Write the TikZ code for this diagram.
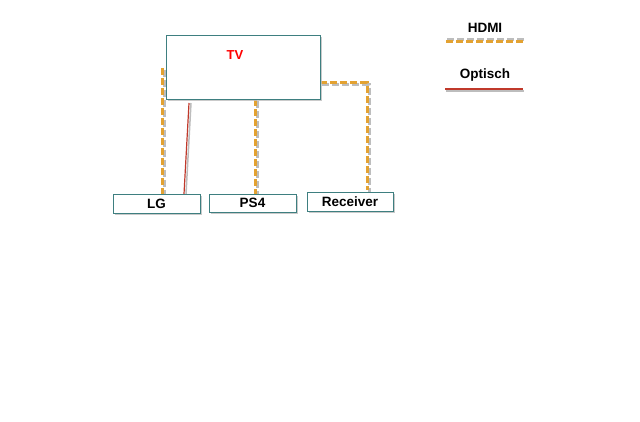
\documentclass[tikz,border=0pt]{standalone}
\usepackage{fontspec}
\setmainfont{Liberation Sans}
\usetikzlibrary{shadows}
\definecolor{hdmi}{HTML}{E3A232}
\definecolor{opt}{HTML}{C0392B}
\definecolor{boxedge}{HTML}{3E7F80}
\definecolor{shade}{HTML}{BDBDBD}
\begin{document}
\begin{tikzpicture}[x=1pt,y=-1pt,
  dev/.style={draw=boxedge,line width=0.8pt,fill=white,rectangle,inner sep=0pt,
    font=\bfseries\fontsize{13.5}{15}\selectfont,
    drop shadow={shadow xshift=2pt,shadow yshift=-2pt,fill=shade,opacity=0.8}},
  hdmiline/.style={draw=hdmi,line width=3pt,dash pattern=on 7pt off 3pt},
  hdmishadow/.style={draw=shade,line width=3pt,dash pattern=on 7pt off 3pt},
  optline/.style={draw=opt,line width=1.2pt},
  optshadow/.style={draw=shade,line width=1.5pt},
  lbl/.style={font=\bfseries\fontsize{13.5}{15}\selectfont}]
\useasboundingbox (0,0) rectangle (640,422);
% cables (shadows first)
\coordinate (tvl) at (162,68);
\coordinate (lgt) at (162,194);
\coordinate (opta) at (189,103);
\coordinate (optb) at (184,194);
\coordinate (tvb) at (255,99);
\coordinate (ps4t) at (255,194);
\coordinate (tvr) at (320,83);
\coordinate (bend) at (367,83);
\coordinate (rect) at (367,190);
\draw[hdmishadow] ([shift={(2,2)}]tvl) -- ([shift={(2,2)}]lgt);
\draw[hdmishadow] ([shift={(2,2)}]tvb) -- ([shift={(2,2)}]ps4t);
\draw[hdmishadow] ([shift={(2,2)}]tvr) -- ([shift={(2,2)}]bend) -- ([shift={(2,2)}]rect);
\draw[optshadow] ([shift={(2,0)}]opta) -- ([shift={(2,0)}]optb);
\draw[hdmiline] (tvl) -- (lgt);
\draw[hdmiline] (tvb) -- (ps4t);
\draw[hdmiline] (tvr) -- (bend) -- (rect);
\draw[optline] (opta) -- (optb);
% devices
\node[dev,minimum width=154pt,minimum height=64pt] (tv) at (243,67) {};
\node[font=\bfseries\fontsize{13}{15}\selectfont,text=red] (tvt) at (235,55) {TV};
\node[dev,minimum width=87pt,minimum height=19pt] (lg) at (156.5,203.5) {LG};
\node[dev,minimum width=87pt,minimum height=18pt] (ps4) at (252.5,203) {PS4};
\node[dev,minimum width=86pt,minimum height=19pt] (rcv) at (350,201.5) {Receiver};
% legend
\node[lbl] (hl) at (485,28) {HDMI};
\coordinate (h1) at (446,42);
\coordinate (h2) at (523,42);
\draw[hdmishadow] ([shift={(1,-2)}]h1) -- ([shift={(1,-2)}]h2);
\draw[hdmiline] (h1) -- (h2);
\node[lbl] (ol) at (485,75) {Optisch};
\coordinate (o1) at (445,89);
\coordinate (o2) at (523,89);
\draw[optshadow] ([shift={(1,2)}]o1) -- ([shift={(1,2)}]o2);
\draw[optline] (o1) -- (o2);
\end{tikzpicture}
\end{document}
